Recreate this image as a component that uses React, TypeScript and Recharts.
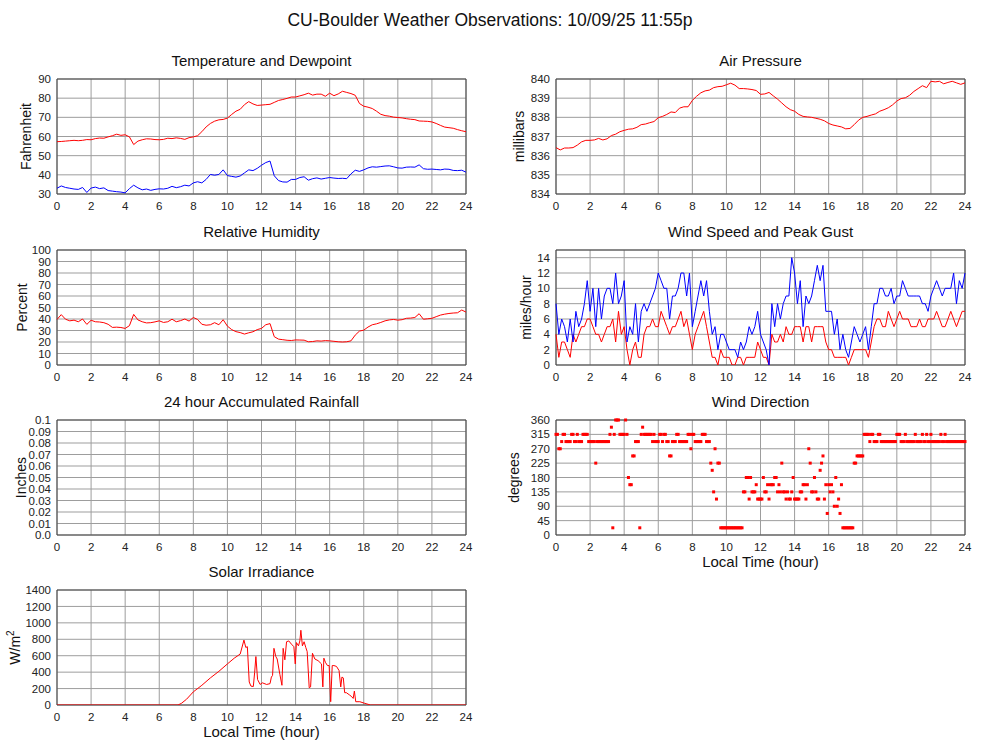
import {
    LineChart,
    Line,
    ScatterChart,
    Scatter,
    XAxis,
    YAxis,
    CartesianGrid,
    ReferenceArea
} from 'recharts';

const FONT = '"Liberation Sans", Arial, Helvetica, sans-serif';

// x axis ticks, hours of the day
const hourTicks = [0, 2, 4, 6, 8, 10, 12, 14, 16, 18, 20, 22, 24];

// 15 minute samples (0:00 .. 24:00)
const temperatureF = [
    57.3, 57.4, 57.6, 57.8, 58.0, 57.8, 58.0, 58.4, 58.3, 58.9, 59.2, 59.1,
    59.8, 60.4, 61.2, 60.6, 60.9, 59.8, 55.8, 57.6, 58.3, 58.8, 58.7, 58.4,
    58.3, 58.5, 59.1, 58.9, 59.3, 59.0, 58.5, 59.4, 59.8, 60.4, 62.5, 65.0,
    66.8, 68.0, 68.7, 68.9, 69.6, 71.5, 73.2, 74.2, 76.6, 78.2, 77.0, 76.2,
    76.4, 76.6, 76.8, 77.8, 78.8, 79.3, 79.9, 80.6, 80.6, 81.2, 81.8, 82.6,
    81.6, 82.1, 82.1, 81.0, 82.6, 81.3, 82.2, 83.6, 83.0, 82.4, 81.5, 77.2,
    75.8, 75.3, 74.6, 73.2, 71.6, 70.9, 70.6, 70.1, 69.9, 69.7, 69.3, 69.0,
    68.8, 68.1, 68.0, 67.9, 67.6, 66.8, 65.8, 64.9, 64.6, 64.3, 63.6, 63.0,
    62.5
];
const dewpointF = [
    33.0, 34.2, 33.4, 33.0, 32.6, 32.4, 33.4, 30.8, 33.1, 33.6, 32.8, 33.2,
    31.8, 31.5, 31.2, 31.0, 30.6, 32.8, 34.6, 33.2, 32.2, 32.6, 31.9, 32.4,
    32.7, 32.6, 33.0, 34.0, 33.3, 33.8, 34.6, 34.2, 35.8, 36.4, 35.8, 37.6,
    40.2, 39.8, 40.2, 42.6, 39.6, 39.2, 38.8, 39.4, 41.0, 42.6, 42.2, 43.4,
    45.0, 46.4, 47.2, 39.5, 37.0, 36.3, 36.2, 37.6, 37.6, 38.6, 39.0, 37.2,
    38.0, 38.4, 37.8, 38.2, 38.6, 38.3, 38.1, 38.2, 38.0, 40.5, 42.4, 41.8,
    42.6, 43.6, 44.2, 44.0, 44.3, 44.6, 44.7, 44.2, 43.6, 43.5, 44.0, 44.1,
    44.0, 45.2, 43.2, 42.9, 43.0, 42.8, 42.6, 43.0, 42.9, 42.3, 42.2, 42.4,
    41.4
];
const pressureMb = [
    836.42, 836.30, 836.40, 836.40, 836.42, 836.55, 836.72, 836.80, 836.80, 836.82, 836.90, 836.82,
    836.88, 837.05, 837.12, 837.25, 837.32, 837.38, 837.40, 837.48, 837.62, 837.65, 837.72, 837.78,
    837.98, 838.05, 838.15, 838.28, 838.25, 838.48, 838.55, 838.55, 838.88, 839.10, 839.28, 839.38,
    839.42, 839.55, 839.60, 839.62, 839.70, 839.78, 839.68, 839.50, 839.50, 839.48, 839.45, 839.40,
    839.20, 839.22, 839.30, 839.12, 838.95, 838.75, 838.55, 838.40, 838.32, 838.15, 838.05, 838.02,
    838.00, 837.95, 837.90, 837.82, 837.68, 837.60, 837.55, 837.50, 837.40, 837.42, 837.62, 837.85,
    838.00, 838.05, 838.12, 838.18, 838.32, 838.40, 838.50, 838.65, 838.85, 838.98, 839.02, 839.15,
    839.35, 839.50, 839.65, 839.55, 839.88, 839.85, 839.88, 839.75, 839.82, 839.88, 839.80, 839.72,
    839.80
];
const humidityPct = [
    39.6, 43.8, 39.8, 38.4, 39.0, 37.6, 40.0, 35.3, 38.9, 37.6, 37.4, 36.8,
    35.4, 32.7, 32.9, 32.6, 31.8, 34.2, 44.0, 39.2, 37.6, 36.6, 36.8, 37.5,
    38.4, 37.0, 37.6, 39.8, 37.6, 38.6, 40.0, 38.2, 41.3, 39.6, 35.4, 34.6,
    35.0, 36.8, 35.0, 39.4, 33.8, 30.8, 29.0, 28.2, 26.9, 28.0, 28.9, 30.8,
    31.8, 35.0, 36.0, 24.6, 22.5, 22.0, 21.5, 21.3, 21.8, 21.7, 21.6, 20.2,
    20.4, 21.0, 20.8, 21.2, 21.0, 20.6, 20.2, 20.0, 20.2, 21.0, 26.0, 29.5,
    30.3, 33.0, 35.0, 35.8, 37.0, 38.4, 39.2, 39.6, 39.0, 39.4, 40.6, 40.8,
    41.3, 44.6, 39.8, 40.2, 40.6, 42.0, 43.4, 44.2, 44.8, 45.2, 45.4, 47.8,
    46.0
];

// 10 minute samples, mph
const windSpeedMph = [
    4, 1, 3, 3, 2, 1,  4, 3, 4, 5, 5, 6,  6, 5, 4, 4, 3, 4,  5, 5, 6, 3, 7, 4,
    5, 2, 0, 2, 3, 1,  1, 4, 5, 5, 6, 5,  5, 7, 6, 5, 4, 5,  5, 6, 7, 5, 6, 4,
    2, 4, 5, 6, 7, 5,  3, 1, 1, 0, 2, 1,  1, 1, 0, 0, 1, 1,  0, 1, 1, 1, 1, 3,
    2, 1, 1, 0, 4, 3,  3, 4, 3, 5, 4, 4,  5, 5, 5, 3, 5, 5,  3, 5, 5, 5, 5, 3,
    2, 2, 1, 1, 1, 1,  1, 0, 1, 2, 2, 2,  2, 2, 1, 3, 5, 6,  6, 5, 5, 7, 6, 5,
    6, 7, 6, 6, 6, 5,  5, 5, 6, 5, 5, 6,  6, 6, 7, 6, 5, 5,  6, 7, 6, 5, 6, 7,
    7
];
const peakGustMph = [
    8, 4, 6, 5, 3, 6,  3, 7, 5, 6, 8, 11,  7, 10, 5, 10, 6, 9,  10, 10, 8, 12, 8, 9,
    11, 3, 5, 4, 8, 3,  7, 8, 7, 8, 9, 10,  12, 11, 10, 10, 6, 9,  9, 10, 12, 12, 9, 12,
    5, 7, 9, 11, 9, 11,  7, 4, 5, 2, 4, 4,  3, 2, 2, 2, 1, 3,  2, 3, 5, 4, 5, 7,
    4, 3, 2, 0, 8, 5,  8, 6, 8, 9, 9, 14,  12, 8, 11, 5, 9, 8,  9, 11, 13, 11, 13, 7,
    7, 7, 4, 6, 2, 4,  2, 1, 3, 5, 4, 3,  4, 5, 2, 5, 8, 8,  10, 10, 9, 9, 10, 8,
    9, 9, 11, 10, 9, 9,  9, 9, 9, 8, 8, 7,  9, 10, 11, 10, 9, 10,  10, 10, 12, 8, 11, 10,
    12
];

// 5 minute samples, degrees
const windDirDeg = [
    315, 315, 270, 270, 292.5, 315, 315, 292.5, 292.5, 292.5, 292.5, 315,
    315, 292.5, 292.5, 315, 292.5, 292.5, 292.5, 315, 315, 315, 315, 292.5,
    292.5, 292.5, 292.5, 292.5, 225, 292.5, 292.5, 292.5, 292.5, 292.5, 292.5, 292.5,
    292.5, 292.5, 315, 337.5, 22.5, 315, 360, 360, 360, 315, 315, 315,
    315, 360, 315, 180, 157.5, 157.5, 247.5, 247.5, 292.5, 292.5, 292.5, 22.5,
    315, 337.5, 315, 315, 315, 315, 315, 315, 292.5, 315, 292.5, 292.5,
    292.5, 315, 315, 292.5, 315, 315, 292.5, 292.5, 247.5, 247.5, 292.5, 292.5,
    292.5, 315, 315, 292.5, 292.5, 292.5, 292.5, 292.5, 292.5, 315, 315, 270,
    315, 315, 292.5, 292.5, 292.5, 292.5, 292.5, 315, 315, 315, 292.5, 292.5,
    292.5, 225, 202.5, 135, 270, 112.5, 225, 225, 22.5, 22.5, 22.5, 22.5,
    22.5, 22.5, 22.5, 22.5, 22.5, 22.5, 22.5, 22.5, 22.5, 22.5, 22.5, 22.5,
    135, 135, 180, 180, 112.5, 180, 135, 135, 135, 157.5, 112.5, 112.5,
    112.5, 112.5, 180, 135, 135, 157.5, 112.5, 157.5, 157.5, 157.5, 180, 180,
    135, 157.5, 135, 225, 135, 135, 112.5, 135, 112.5, 112.5, 135, 180,
    112.5, 112.5, 112.5, 112.5, 135, 135, 157.5, 157.5, 112.5, 157.5, 270, 225,
    135, 135, 180, 135, 112.5, 112.5, 202.5, 225, 247.5, 112.5, 157.5, 67.5,
    157.5, 135, 157.5, 135, 90, 180, 90, 112.5, 67.5, 157.5, 22.5, 22.5,
    22.5, 22.5, 22.5, 22.5, 22.5, 22.5, 225, 225, 247.5, 247.5, 247.5, 247.5,
    247.5, 315, 315, 315, 315, 292.5, 315, 315, 292.5, 292.5, 292.5, 315,
    315, 292.5, 292.5, 292.5, 292.5, 292.5, 292.5, 292.5, 292.5, 292.5, 292.5, 292.5,
    315, 315, 315, 292.5, 292.5, 292.5, 315, 292.5, 292.5, 292.5, 292.5, 292.5,
    292.5, 315, 292.5, 292.5, 292.5, 292.5, 315, 292.5, 292.5, 315, 292.5, 292.5,
    315, 292.5, 292.5, 292.5, 292.5, 292.5, 292.5, 315, 292.5, 292.5, 315, 292.5,
    292.5, 292.5, 292.5, 292.5, 292.5, 292.5, 292.5, 292.5, 292.5, 292.5, 292.5, 292.5,
    292.5
];

// solar irradiance, irregular times
const solarHours = [
    0, 7.1, 7.3, 7.6, 8.0, 8.5, 9.0, 9.5, 10.0, 10.4, 10.75, 10.97, 11.08, 11.17, 11.28,
    11.38, 11.52, 11.6, 11.67, 11.77, 11.92, 12.05, 12.3, 12.5, 12.58, 12.65, 12.73, 12.84,
    12.92, 13.08, 13.2, 13.27, 13.37, 13.47, 13.6, 13.76, 13.9, 13.98, 14.05, 14.17, 14.25,
    14.31, 14.4, 14.5, 14.6, 14.68, 14.8, 14.88, 14.99, 15.13, 15.32, 15.52, 15.6, 15.66,
    15.75, 15.87, 15.97, 16.06, 16.15, 16.25, 16.4, 16.55, 16.65, 16.72, 16.8, 16.88, 16.98,
    17.18, 17.3, 17.38, 17.45, 17.53, 17.77, 18.06, 18.4, 24
];
const solarWm2 = [
    0, 0, 20, 70, 160, 240, 330, 410, 500, 570, 620, 790, 700, 710, 280,
    230, 225, 400, 590, 310, 250, 270, 250, 260, 340, 360, 690, 590,
    560, 370, 240, 690, 550, 770, 780, 740, 710, 500, 760, 720, 780,
    910, 720, 770, 700, 650, 210, 220, 630, 560, 540, 500, 220, 570,
    520, 480, 480, 40, 480, 480, 470, 420, 220, 340, 330, 150, 150,
    120, 100, 80, 170, 40, 40, 20, 0, 0
];

// no rain recorded today
const rainHours = [0, 24];
const rainInches: (number | null)[] = [null, null];

const tempTicks = [30, 40, 50, 60, 70, 80, 90];
const pressureTicks = [834, 835, 836, 837, 838, 839, 840];
const humidityTicks = [0, 10, 20, 30, 40, 50, 60, 70, 80, 90, 100];
const windTicks = [0, 2, 4, 6, 8, 10, 12, 14];
const rainTicks = [0, 0.01, 0.02, 0.03, 0.04, 0.05, 0.06, 0.07, 0.08, 0.09, 0.1];
const dirTicks = [0, 45, 90, 135, 180, 225, 270, 315, 360];
const solarTicks = [0, 200, 400, 600, 800, 1000, 1200, 1400];

const quarterRows = temperatureF.map((t, i) => ({
    h: i * 0.25,
    temp: t,
    dew: dewpointF[i],
    pres: pressureMb[i],
    rh: humidityPct[i]
}));
const windRows = windSpeedMph.map((s, i) => ({ h: i / 6, speed: s, gust: peakGustMph[i] }));
const dirRows = windDirDeg.map((d, i) => ({ h: i / 12, deg: d }));
const solarRows = solarHours.map((h, i) => ({ h, sol: solarWm2[i] }));
const rainRows = rainHours.map((h, i) => ({ h, rain: rainInches[i] }));

const RED = '#ff0000';
const BLUE = '#0000ff';
const GRID = '#9d9d9d';
const tickStyle = { fill: '#222', fontSize: 11.5, fontFamily: FONT };

// chart box: plot area is 409 x 115
const CH = 155;

type Series = { key: string; color: string };

function Panel({ left, top, rightCol, data, domain, ticks, fmt, series }: {
    left: number; top: number; rightCol?: boolean; data: any[];
    domain: [number, number]; ticks: number[]; fmt?: (v: number) => string; series: Series[];
}) {
    return (
        <div style={{ position: 'absolute', left, top: top - 10 }}>
            <LineChart
                width={rightCol ? 490 : 480}
                height={CH}
                data={data}
                margin={{ top: 10, right: rightCol ? 15 : 14, bottom: 5, left: rightCol ? 26 : 17 }}
            >
                <CartesianGrid stroke={GRID} />
                <XAxis dataKey="h" type="number" domain={[0, 24]} ticks={hourTicks}
                    tickLine={false} axisLine={false} height={25} tick={tickStyle} interval={0} />
                <YAxis type="number" domain={domain} ticks={ticks} width={40} tickLine={false}
                    axisLine={false} tickSize={4} tickMargin={2} tick={tickStyle} interval={0}
                    tickFormatter={fmt} allowDataOverflow />
                <ReferenceArea x1={0} x2={24} y1={domain[0]} y2={domain[1]} fill="none"
                    stroke="#444" strokeWidth={1} ifOverflow="visible" />
                {series.map(s => (
                    <Line key={s.key} dataKey={s.key} type="linear" stroke={s.color} strokeWidth={1}
                        dot={false} isAnimationActive={false} connectNulls={false} />
                ))}
            </LineChart>
        </div>
    );
}

const square = (props: any) => (
    <rect x={props.cx - 1.5} y={props.cy - 1.5} width={3} height={3} fill={RED} />
);

function DirectionPanel({ left, top }: { left: number; top: number }) {
    return (
        <div style={{ position: 'absolute', left, top: top - 10 }}>
            <ScatterChart width={490} height={CH} margin={{ top: 10, right: 15, bottom: 5, left: 26 }}>
                <CartesianGrid stroke={GRID} />
                <XAxis dataKey="h" type="number" domain={[0, 24]} ticks={hourTicks}
                    tickLine={false} axisLine={false} height={25} tick={tickStyle} interval={0} />
                <YAxis dataKey="deg" type="number" domain={[0, 360]} ticks={dirTicks} width={40}
                    tickLine={false} axisLine={false} tickSize={4} tickMargin={2} tick={tickStyle} interval={0} />
                <ReferenceArea x1={0} x2={24} y1={0} y2={360} fill="none" stroke="#444"
                    strokeWidth={1} ifOverflow="visible" />
                <Scatter data={dirRows} shape={square} isAnimationActive={false} />
            </ScatterChart>
        </div>
    );
}

const rainFmt = (v: number) => (v === 0 ? '0.0' : String(v));

export default function App() {
    const L = 261.5;
    const R = 760.5;
    return (
        <div style={{ position: 'absolute', left: 0, top: 0, width: 1000, height: 745, background: '#fff', fontFamily: FONT }}>
            <Panel left={0} top={79} data={quarterRows} domain={[30, 90]} ticks={tempTicks}
                series={[{ key: 'temp', color: RED }, { key: 'dew', color: BLUE }]} />
            <Panel left={490} top={79} rightCol data={quarterRows} domain={[834, 840]} ticks={pressureTicks}
                series={[{ key: 'pres', color: RED }]} />
            <Panel left={0} top={250} data={quarterRows} domain={[0, 100]} ticks={humidityTicks}
                series={[{ key: 'rh', color: RED }]} />
            <Panel left={490} top={250} rightCol data={windRows} domain={[0, 15]} ticks={windTicks}
                series={[{ key: 'speed', color: RED }, { key: 'gust', color: BLUE }]} />
            <Panel left={0} top={420} data={rainRows} domain={[0, 0.1]} ticks={rainTicks} fmt={rainFmt}
                series={[{ key: 'rain', color: RED }]} />
            <DirectionPanel left={490} top={420} />
            <Panel left={0} top={590} data={solarRows} domain={[0, 1400]} ticks={solarTicks}
                series={[{ key: 'sol', color: RED }]} />

            <svg width={1000} height={745} style={{ position: 'absolute', left: 0, top: 0, pointerEvents: 'none' }}
                fontFamily={FONT} fill="#111">
                <text x={490} y={26} fontSize={17.5} textAnchor="middle">CU-Boulder Weather Observations: 10/09/25 11:55p</text>

                <text x={L} y={66} fontSize={15} textAnchor="middle">Temperature and Dewpoint</text>
                <text x={R} y={66} fontSize={15} textAnchor="middle">Air Pressure</text>
                <text x={L} y={236.5} fontSize={15} textAnchor="middle">Relative Humidity</text>
                <text x={R} y={236.5} fontSize={15} textAnchor="middle">Wind Speed and Peak Gust</text>
                <text x={L} y={406.5} fontSize={15} textAnchor="middle">24 hour Accumulated Rainfall</text>
                <text x={R} y={406.5} fontSize={15} textAnchor="middle">Wind Direction</text>
                <text x={L} y={576.5} fontSize={15} textAnchor="middle">Solar Irradiance</text>

                <text transform="translate(31,136.5) rotate(-90)" fontSize={14} textAnchor="middle">Fahrenheit</text>
                <text transform="translate(524,136.5) rotate(-90)" fontSize={14} textAnchor="middle">millibars</text>
                <text transform="translate(27,307.5) rotate(-90)" fontSize={14} textAnchor="middle">Percent</text>
                <text transform="translate(531,307.5) rotate(-90)" fontSize={14} textAnchor="middle">miles/hour</text>
                <text transform="translate(26,477.5) rotate(-90)" fontSize={14} textAnchor="middle">Inches</text>
                <text transform="translate(519,477.5) rotate(-90)" fontSize={14} textAnchor="middle">degrees</text>
                <text transform="translate(20,647.5) rotate(-90)" fontSize={14} textAnchor="middle">
                    W/m<tspan dy={-6} fontSize={10}>2</tspan>
                </text>

                <text x={L} y={737} fontSize={15} textAnchor="middle">Local Time (hour)</text>
                <text x={R} y={567} fontSize={15} textAnchor="middle">Local Time (hour)</text>
            </svg>
        </div>
    );
}
